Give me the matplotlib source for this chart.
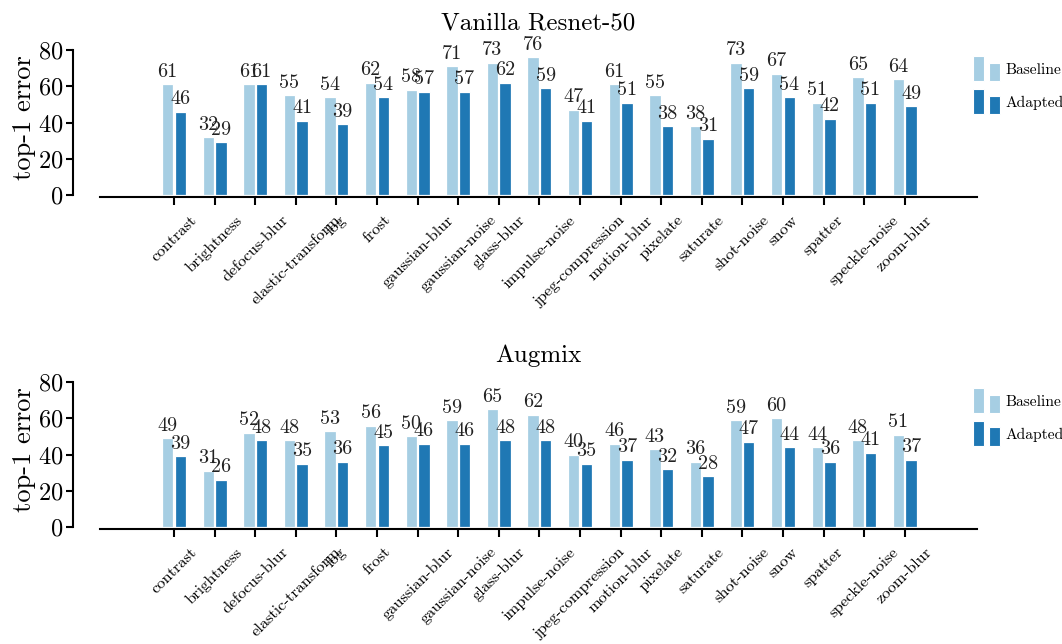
import matplotlib
matplotlib.use("Agg")
import matplotlib.pyplot as plt
from matplotlib.patches import Rectangle
import numpy as np

plt.rcParams['font.family'] = 'serif'
plt.rcParams['font.serif'] = ['cmr10', 'DejaVu Serif']
plt.rcParams['axes.formatter.use_mathtext'] = True

# corruption types on the x axis
categories = ["contrast", "brightness", "defocus-blur", "elastic-transform", "fog",
              "frost", "gaussian-blur", "gaussian-noise", "glass-blur", "impulse-noise",
              "jpeg-compression", "motion-blur", "pixelate", "saturate", "shot-noise",
              "snow", "spatter", "speckle-noise", "zoom-blur"]

# top-1 error, vanilla resnet-50
vanilla_base = [61, 32, 61, 55, 54, 62, 58, 71, 73, 76, 47, 61, 55, 38, 73, 67, 51, 65, 64]
vanilla_adapt = [46, 29, 61, 41, 39, 54, 57, 57, 62, 59, 41, 51, 38, 31, 59, 54, 42, 51, 49]

# top-1 error, augmix
augmix_base = [49, 31, 52, 48, 53, 56, 50, 59, 65, 62, 40, 46, 43, 36, 59, 60, 44, 48, 51]
augmix_adapt = [39, 26, 48, 35, 36, 45, 46, 46, 48, 48, 35, 37, 32, 28, 47, 44, 36, 41, 37]

titles = ["Vanilla Resnet-50", "Augmix"]
series_names = ["Baseline", "Adapted"]
c_light = "#a6cee3"
c_dark = "#1f78b4"


class TwoBarHandler:
    # legend handle drawn as a tall and a short block
    def legend_artist(self, legend, orig_handle, fontsize, handlebox):
        x0, y0 = -handlebox.xdescent, -handlebox.ydescent
        w, h = handlebox.width, handlebox.height
        col = orig_handle.get_facecolor()
        r1 = Rectangle((x0, y0), w * 0.4, h, facecolor=col, edgecolor="white", lw=0.8,
                       transform=handlebox.get_transform())
        r2 = Rectangle((x0 + w * 0.6, y0), w * 0.4, h * 0.75, facecolor=col, edgecolor="white",
                       lw=0.8, transform=handlebox.get_transform())
        handlebox.add_artist(r1)
        handlebox.add_artist(r2)
        return r1


fig = plt.figure(figsize=(10.62, 6.44), dpi=100)
ax_top = fig.add_axes([0.0942, 0.6972, 0.8258, 0.2391])
ax_bot = fig.add_axes([0.0942, 0.1817, 0.8258, 0.2391])

x = np.arange(len(categories))
w = 0.28
off = 0.155

for ax, title, base, adapt in [(ax_top, titles[0], vanilla_base, vanilla_adapt),
                               (ax_bot, titles[1], augmix_base, augmix_adapt)]:
    b1 = ax.bar(x - off, base, w, color=c_light, edgecolor="white", lw=0.9, label=series_names[0])
    b2 = ax.bar(x + off, adapt, w, color=c_dark, edgecolor="white", lw=0.9, label=series_names[1])
    for bars in (b1, b2):
        for r in bars:
            ax.annotate("%d" % r.get_height(), (r.get_x() + r.get_width() / 2, r.get_height()),
                        xytext=(0, 2.5), textcoords="offset points", ha="center", va="bottom",
                        fontsize=14.5, color="#222222")

    ax.set_xlim(-1.82, 19.78)
    ax.set_ylim(0, 85)
    ax.set_yticks([0, 20, 40, 60, 80])
    ax.set_xticks(x)
    ax.set_xticklabels(categories)
    ax.tick_params(axis="x", length=5.5, width=1.5, pad=6, labelrotation=45, labelsize=11.8)
    ax.tick_params(axis="y", length=5, width=1.5, pad=2, labelsize=17.5)
    ax.set_ylabel("top-1 error", fontsize=19, labelpad=1)
    ax.set_title(title, fontsize=18, pad=8)

    for s in ("top", "right"):
        ax.spines[s].set_visible(False)
    ax.spines["left"].set_position(("outward", 19.5))
    ax.spines["left"].set_bounds(0, 80)
    ax.spines["bottom"].set_position(("outward", 1.5))
    ax.spines["left"].set_linewidth(1.5)
    ax.spines["bottom"].set_linewidth(1.5)

    ax.legend(handles=[b1.patches[0], b2.patches[0]], labels=series_names,
              handler_map={Rectangle: TwoBarHandler()}, loc="upper left",
              bbox_to_anchor=(0.995, 0.9), frameon=False, fontsize=11.2,
              handlelength=1.75, handleheight=2.1, handletextpad=0.35,
              labelspacing=0.5, borderpad=0, borderaxespad=0)

fig.savefig("out.png", dpi=100)
